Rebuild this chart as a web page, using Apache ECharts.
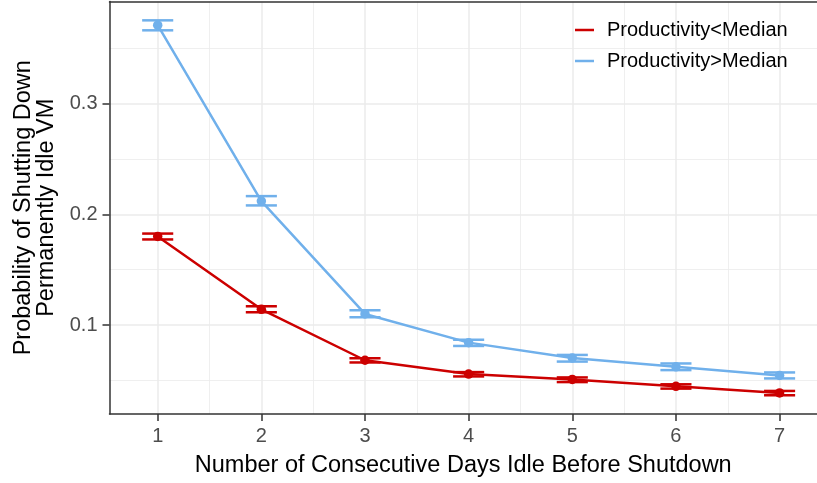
<!DOCTYPE html>
<html><head><meta charset="utf-8">
<script src="https://cdn.jsdelivr.net/npm/echarts@6/dist/echarts.min.js"></script>
<style>html,body{margin:0;padding:0;background:#fff}#c{width:817px;height:483px}</style>
</head><body><div id="c"></div>
<script>
const days = [1, 2, 3, 4, 5, 6, 7];
const xTicks = [1, 2, 3, 4, 5, 6, 7];
const xMinor = [1.5, 2.5, 3.5, 4.5, 5.5, 6.5];
const yTicks = [0.1, 0.2, 0.3];
const yMinor = [0.05, 0.15, 0.25, 0.35];
const seriesNames = ['Productivity<Median', 'Productivity>Median'];
const lowMean  = [0.1800, 0.1143, 0.0683, 0.0558, 0.0510, 0.0448, 0.0388];
const lowLower = [0.1773, 0.1116, 0.0663, 0.0537, 0.0486, 0.0427, 0.0367];
const lowUpper = [0.1826, 0.1170, 0.0701, 0.0576, 0.0528, 0.0466, 0.0406];
const highMean  = [0.3706, 0.2119, 0.1101, 0.0842, 0.0704, 0.0624, 0.0546];
const highLower = [0.3660, 0.2080, 0.1071, 0.0812, 0.0671, 0.0594, 0.0519];
const highUpper = [0.3750, 0.2164, 0.1134, 0.0868, 0.0731, 0.0654, 0.0573];

const RED = '#CC0000', BLUE = '#70B0EB';
const FONT = 'Liberation Sans, Arial, Helvetica, sans-serif';
const X_MIN = 0.535, X_MAX = 7.361, Y_MIN = 0.0198, Y_MAX = 0.392;
const CAP = 0.15;

function errSeries(color, lower, upper) {
  return {
    type: 'custom', xAxisIndex: 0, yAxisIndex: 0, z: 3,
    data: days.map((d, i) => [d, lower[i], upper[i]]),
    encode: { x: 0, y: [1, 2] },
    renderItem: function (params, api) {
      const x = api.value(0), lo = api.value(1), hi = api.value(2);
      const a = api.coord([x - CAP, hi]), b = api.coord([x + CAP, hi]);
      const c = api.coord([x - CAP, lo]), d = api.coord([x + CAP, lo]);
      const m1 = api.coord([x, hi]), m2 = api.coord([x, lo]);
      const st = { stroke: color, lineWidth: 2.5 };
      return { type: 'group', children: [
        { type: 'line', shape: { x1: a[0], y1: a[1], x2: b[0], y2: b[1] }, style: st },
        { type: 'line', shape: { x1: c[0], y1: c[1], x2: d[0], y2: d[1] }, style: st },
        { type: 'line', shape: { x1: m1[0], y1: m1[1], x2: m2[0], y2: m2[1] }, style: st }
      ]};
    },
    silent: true
  };
}
function lineSeries(name, color, vals) {
  return {
    name: name, type: 'line', xAxisIndex: 0, yAxisIndex: 0, z: 4,
    data: days.map((d, i) => [d, vals[i]]),
    symbol: 'circle', symbolSize: 9.5, showSymbol: true,
    lineStyle: { color: color, width: 2.5 },
    itemStyle: { color: color }
  };
}

const chart = echarts.init(document.getElementById('c'), null, { renderer: 'canvas' });
chart.setOption({
  animation: false,
  backgroundColor: '#fff',
  textStyle: { fontFamily: FONT },
  grid: { left: 109.5, right: 0, top: 1.5, bottom: 483 - 415.3, show: false },
  legend: {
    orient: 'vertical', left: 570, top: 15, itemGap: 11,
    itemWidth: 19, itemHeight: 2.5, icon: 'rect',
    textStyle: { fontSize: 20, color: '#000', fontFamily: FONT, padding: [0, 0, 0, 8] },
    data: seriesNames
  },
  xAxis: [{
    type: 'value', min: X_MIN, max: X_MAX, position: 'bottom',
    name: 'Number of Consecutive Days Idle Before Shutdown', nameLocation: 'middle', nameGap: 40,
    nameTextStyle: { fontSize: 23.5, color: '#000', fontFamily: FONT },
    axisLine: { show: true, onZero: false, lineStyle: { color: '#333333', width: 1.5 } },
    axisTick: { show: true, length: 7, lineStyle: { color: '#333333', width: 1.5 }, customValues: xTicks },
    axisLabel: { fontSize: 20, color: '#4D4D4D', margin: 12, fontFamily: FONT, customValues: xTicks },
    splitLine: { show: true, lineStyle: { color: '#EBEBEB', width: 1.5 } }
  }, {
    type: 'value', min: X_MIN, max: X_MAX, position: 'bottom',
    axisLine: { show: false }, axisLabel: { show: false },
    axisTick: { show: false, customValues: xMinor },
    splitLine: { show: true, lineStyle: { color: '#EBEBEB', width: 0.8 } }
  }, {
    type: 'value', min: X_MIN, max: X_MAX, position: 'top',
    axisLine: { show: true, onZero: false, lineStyle: { color: '#333333', width: 1.5 } },
    axisLabel: { show: false }, axisTick: { show: false }, splitLine: { show: false }
  }],
  yAxis: [{
    type: 'value', min: Y_MIN, max: Y_MAX, position: 'left',
    name: 'Probability of Shutting Down\nPermanently Idle VM', nameLocation: 'middle', nameGap: 50, nameRotate: 90,
    nameTextStyle: { fontSize: 23.5, color: '#000', fontFamily: FONT, lineHeight: 23, align: 'center' },
    axisLine: { show: true, onZero: false, lineStyle: { color: '#333333', width: 1.5 } },
    axisTick: { show: true, length: 7, lineStyle: { color: '#333333', width: 1.5 }, customValues: yTicks },
    axisLabel: { fontSize: 20, color: '#4D4D4D', margin: 12, fontFamily: FONT, customValues: yTicks, formatter: v => v.toFixed(1) },
    splitLine: { show: true, lineStyle: { color: '#EBEBEB', width: 1.5 } }
  }, {
    type: 'value', min: Y_MIN, max: Y_MAX, position: 'left',
    axisLine: { show: false }, axisLabel: { show: false },
    axisTick: { show: false, customValues: yMinor },
    splitLine: { show: true, lineStyle: { color: '#EBEBEB', width: 0.8 } }
  }],
  series: [
    lineSeries(seriesNames[0], RED, lowMean),
    lineSeries(seriesNames[1], BLUE, highMean),
    errSeries(RED, lowLower, lowUpper),
    errSeries(BLUE, highLower, highUpper)
  ]
});
</script>
</body></html>
